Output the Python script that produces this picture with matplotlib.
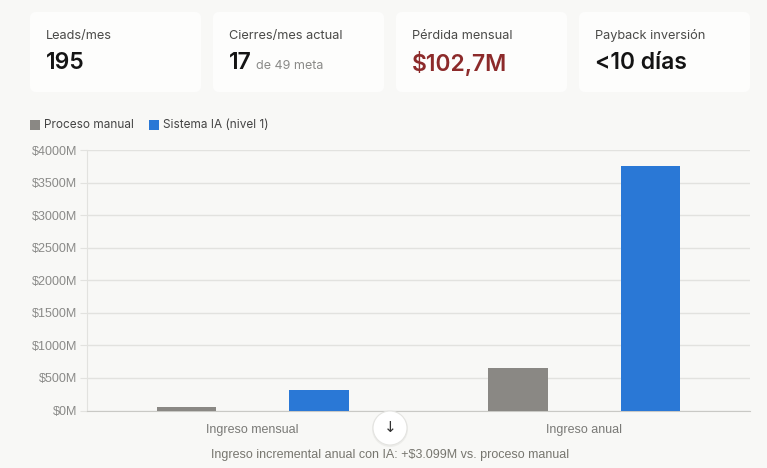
import numpy as np
import matplotlib.pyplot as plt
from matplotlib.patches import FancyBboxPatch, Rectangle, Circle

# data
categories = ["Ingreso mensual", "Ingreso anual"]
manual = [54.6, 655]
sistema_ia = [312.9, 3754]
series_names = ["Proceso manual", "Sistema IA (nivel 1)"]
y_ticks = [0, 500, 1000, 1500, 2000, 2500, 3000, 3500, 4000]

card_labels = ["Leads/mes", "Cierres/mes actual", "Pérdida mensual", "Payback inversión"]
card_values = ["195", "17", "$102,7M", "<10 días"]
card_extra = ["", "de 49 meta", "", ""]
caption = "Ingreso incremental anual con IA: +$3.099M vs. proceso manual"

W, H = 767, 468
BG = "#f8f8f6"
GRAY = "#8a8884"
BLUE = "#2a78d6"

fig = plt.figure(figsize=(W / 100, H / 100), dpi=100, facecolor=BG)

# overlay in pixel coords for the cards, legend and caption
bg = fig.add_axes([0, 0, 1, 1])
bg.set_xlim(0, W)
bg.set_ylim(H, 0)
bg.axis("off")

card_x = [30, 213, 396, 579]
for x0, lab, val, extra in zip(card_x, card_labels, card_values, card_extra):
    bg.add_patch(FancyBboxPatch((x0 + 6, 18), 171 - 12, 80 - 12,
                                boxstyle="round,pad=6", fc="#fdfdfc", ec="none"))
    bg.text(x0 + 16, 36, lab, fontsize=9.2, color="#4a4a48", va="center",
            family="Inter")
    col = "#8c2a2a" if val.startswith("$") else "#141414"
    bg.text(x0 + 16, 63, val, fontsize=16.5, color=col, va="center",
            family="Inter", fontweight="semibold")
    if extra:
        bg.text(x0 + 43, 66, extra, fontsize=9, color="#8a8a88", va="center",
                family="Inter")

# legend
bg.add_patch(Rectangle((30, 120), 10, 10, fc=GRAY, ec="none"))
bg.text(44, 125, series_names[0], fontsize=8.5, color="#444", va="center", family="Inter")
bg.add_patch(Rectangle((149, 120), 10, 10, fc=BLUE, ec="none"))
bg.text(163, 125, series_names[1], fontsize=8.5, color="#444", va="center", family="Inter")

bg.text(390, 455, caption, fontsize=9, color="#77766f", ha="center", va="center",
        family="Liberation Sans")

# chart
ax = fig.add_axes([87 / W, (H - 410.5) / H, 663 / W, 260.5 / H])
ax.set_facecolor("none")
x = np.arange(len(categories))
w = 0.18
ax.bar(x - 0.2, manual, w, color=GRAY, zorder=3)
ax.bar(x + 0.2, sistema_ia, w, color=BLUE, zorder=3)

ax.set_xlim(-0.5, 1.5)
ax.set_ylim(0, 4000)
ax.set_yticks(y_ticks)
ax.set_yticklabels([f"${v}M" for v in y_ticks])
ax.set_xticks(x)
ax.set_xticklabels(categories)
ax.grid(axis="y", color="#e2e2df", linewidth=1, zorder=0)
for s in ["top", "right"]:
    ax.spines[s].set_visible(False)
ax.spines["left"].set_color("#e2e2df")
ax.spines["bottom"].set_color("#c9c9c5")
ax.tick_params(axis="y", colors="#e2e2df", labelcolor="#8a8a88", labelsize=9, length=5, pad=2)
ax.tick_params(axis="x", length=0, labelcolor="#7a7a77", labelsize=9, pad=10)
for lbl in ax.get_xticklabels() + ax.get_yticklabels():
    lbl.set_family("Liberation Sans")

# scroll button overlay
btn = fig.add_axes([0, 0, 1, 1])
btn.set_xlim(0, W)
btn.set_ylim(H, 0)
btn.axis("off")
btn.add_patch(Circle((390, 429), 18, fc="#e6e6e3", ec="none", alpha=0.6))
btn.add_patch(Circle((390, 428), 17, fc="white", ec="#e4e4e1", lw=0.8))
btn.text(390, 428, "↓", fontsize=11, color="#333", ha="center", va="center",
         family="DejaVu Sans")

fig.savefig("out.png", dpi=100, facecolor=BG)
